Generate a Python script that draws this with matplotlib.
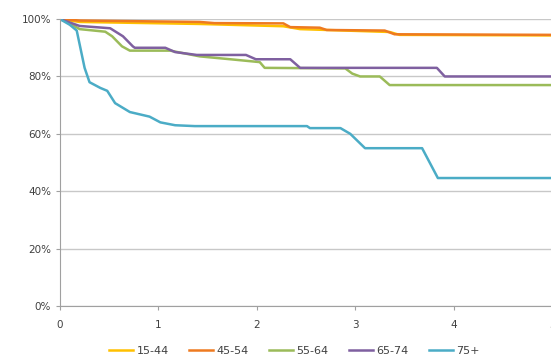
import matplotlib.pyplot as plt
from matplotlib.ticker import PercentFormatter

# survival curves (years, % surviving)
labels = ["15-44", "45-54", "55-64", "65-74", "75+"]
colors = ["#FFC000", "#EE7A20", "#9BBB59", "#7F60A0", "#4BACC6"]

t_1544 = [0, 0.20, 1.42, 2.27, 2.44, 3.35, 3.45, 5.0]
v_1544 = [100, 99.0, 98.3, 97.5, 96.5, 95.5, 94.5, 94.3]

t_4554 = [0, 0.20, 1.42, 1.57, 2.27, 2.34, 2.64, 2.71, 3.30, 3.40, 5.0]
v_4554 = [100, 99.5, 99.0, 98.6, 98.5, 97.2, 97.0, 96.2, 96.0, 94.7, 94.5]

t_5564 = [0, 0.10, 0.20, 0.46, 0.53, 0.63, 0.71, 1.12, 1.42, 1.73, 2.03, 2.08, 2.90, 2.97, 3.05, 3.25, 3.35, 5.0]
v_5564 = [100, 98.5, 96.5, 95.6, 94.0, 90.5, 89.0, 89.0, 87.0, 86.0, 85.0, 83.0, 82.8, 81.0, 80.0, 80.0, 77.0, 77.0]

t_6574 = [0, 0.20, 0.51, 0.64, 0.74, 0.76, 1.07, 1.17, 1.39, 1.89, 1.99, 2.34, 2.44, 3.83, 3.91, 5.0]
v_6574 = [100, 97.6, 96.8, 94.0, 90.5, 90.0, 90.0, 88.5, 87.5, 87.5, 86.0, 86.0, 83.0, 83.0, 80.0, 80.0]

t_75 = [0, 0.10, 0.17, 0.25, 0.30, 0.41, 0.48, 0.56, 0.71, 0.91, 1.02, 1.17, 1.37, 2.51, 2.54, 2.85, 2.95, 3.10, 3.68, 3.84, 5.0]
v_75 = [100, 98.0, 96.0, 83.0, 78.0, 76.0, 75.0, 70.7, 67.6, 66.0, 64.0, 63.0, 62.7, 62.7, 62.0, 62.0, 60.0, 55.0, 55.0, 44.6, 44.6]

series = [(t_1544, v_1544), (t_4554, v_4554), (t_5564, v_5564), (t_6574, v_6574), (t_75, v_75)]

fig = plt.figure(figsize=(5.51, 3.6), dpi=100)
ax = fig.add_axes([60 / 551, 0.15, 492 / 551, 0.797])

for (t, v), lab, c in zip(series, labels, colors):
    ax.plot(t, v, color=c, lw=1.8, label=lab)

ax.set_xlim(0, 5)
ax.set_ylim(0, 100)
ax.set_yticks(range(0, 101, 20))
ax.set_xticks(range(0, 6))
ax.yaxis.set_major_formatter(PercentFormatter(decimals=0))
ax.grid(axis="y", color="#c8c8c8", lw=1)
ax.set_axisbelow(True)

for side in ["top", "right"]:
    ax.spines[side].set_visible(False)
for side in ["left", "bottom"]:
    ax.spines[side].set_color("#a0a0a0")
ax.tick_params(colors="#a0a0a0", labelcolor="#404040", labelsize=7.5, length=3)
ax.tick_params(axis="x", pad=7)

fig.legend(loc="center", ncol=5, frameon=False, fontsize=8,
           bbox_to_anchor=(0.534, 0.025), handlelength=2.2, handletextpad=0.3,
           columnspacing=1.8, labelcolor="#404040")

fig.savefig("out.png", dpi=100)
